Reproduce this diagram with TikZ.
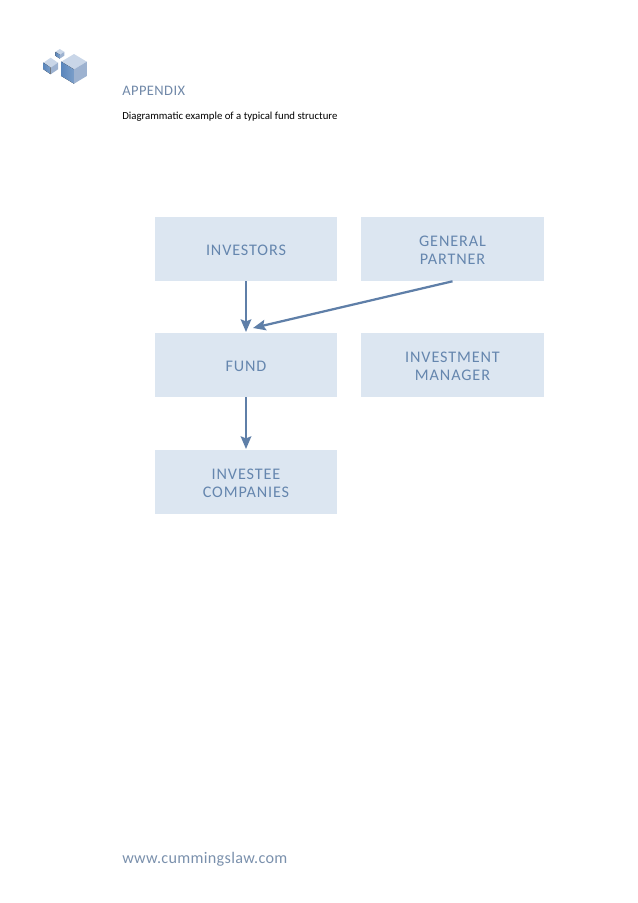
\documentclass[tikz,border=0pt]{standalone}
\usepackage{fontspec}
\usepackage{tikz}
\usetikzlibrary{arrows.meta}
\setmainfont{Carlito}
\newfontfamily\boxfont[LetterSpace=5.5]{Carlito}
\newfontfamily\urlfont[LetterSpace=2]{Carlito}
\newfontfamily\headfont[LetterSpace=3]{Carlito}
\definecolor{boxblue}{HTML}{DCE6F1}
\definecolor{linkblue}{HTML}{5F7FA8}
\definecolor{textblue}{HTML}{6586AE}
\definecolor{headblue}{HTML}{7088A8}
\definecolor{urlblue}{HTML}{7A90AC}
\definecolor{cubetop}{HTML}{C9D6E8}
\definecolor{cubeleft}{HTML}{5A86BC}
\definecolor{cuberight}{HTML}{9DB2D0}
\newcommand{\lowered}[1]{\raisebox{-2.1pt}[\height][\depth]{\begin{tabular}{@{}c@{}}#1\end{tabular}}}
\begin{document}
\begin{tikzpicture}
            [x=0.025cm, y=-0.025cm, >={Stealth[length=9pt,width=7.5pt,inset=1.5pt]},
            party/.style={rectangle, fill=boxblue, text=textblue, minimum width=4.56cm, minimum height=1.6cm, inner sep=0pt, font=\boxfont\fontsize{11.5}{13}\selectfont},
            link/.style={draw=linkblue, line width=1.6pt},
            label/.style={anchor=base west, inner sep=0pt}]
            \useasboundingbox (0,0) rectangle (638,903);
            % logo
            \foreach \cx/\cy/\hw/\hh/\hs in {74/54/12.8/7.7/22, 50.7/57.7/7.3/5/11.6, 59.8/49/4.5/2.9/6.7} {
                \fill[cubetop] (\cx,\cy) -- ++(\hw,\hh) -- ++(-\hw,\hh) -- ++(-\hw,-\hh) -- cycle;
                \fill[left color=cubeleft, right color=cubeleft!80] (\cx-\hw,\cy+\hh) -- ++(\hw,\hh) -- ++(0,\hs-\hh) -- ++(-\hw,-\hh) -- cycle;
                \fill[cuberight] (\cx,\cy+2*\hh) -- ++(\hw,-\hh) -- ++(0,\hs-\hh) -- ++(-\hw,\hh) -- cycle;
            }
            \node[label, text=headblue, font=\headfont\fontsize{10.3}{12}\selectfont] (title) at (122,95) {APPENDIX};
            \node[label, text=black, font=\fontsize{7.65}{9}\selectfont] (subtitle) at (122,119) {Diagrammatic example of a typical fund structure};
            \node[party] (investors) at (246,249) {\lowered{INVESTORS}};
            \node[party] (general) at (452.5,249) {\lowered{GENERAL\\PARTNER}};
            \node[party] (fund) at (246,365) {\lowered{FUND}};
            \node[party] (manager) at (452.5,365) {\lowered{INVESTMENT\\MANAGER}};
            \node[party] (investee) at (246,482) {\lowered{INVESTEE\\COMPANIES}};
            \coordinate (fundtop) at (253,328);
            \coordinate (fundin) at (246,332);
            \coordinate (investeein) at (246,449);
            \draw[link, ->] (investors.south) -- (fundin);
            \draw[link, ->] (general.south) -- (fundtop);
            \draw[link, ->] (fund.south) -- (investeein);
            \node[label, text=urlblue, font=\urlfont\fontsize{11.5}{13}\selectfont] (url) at (122,863) {www.cummingslaw.com};
\end{tikzpicture}
\end{document}
